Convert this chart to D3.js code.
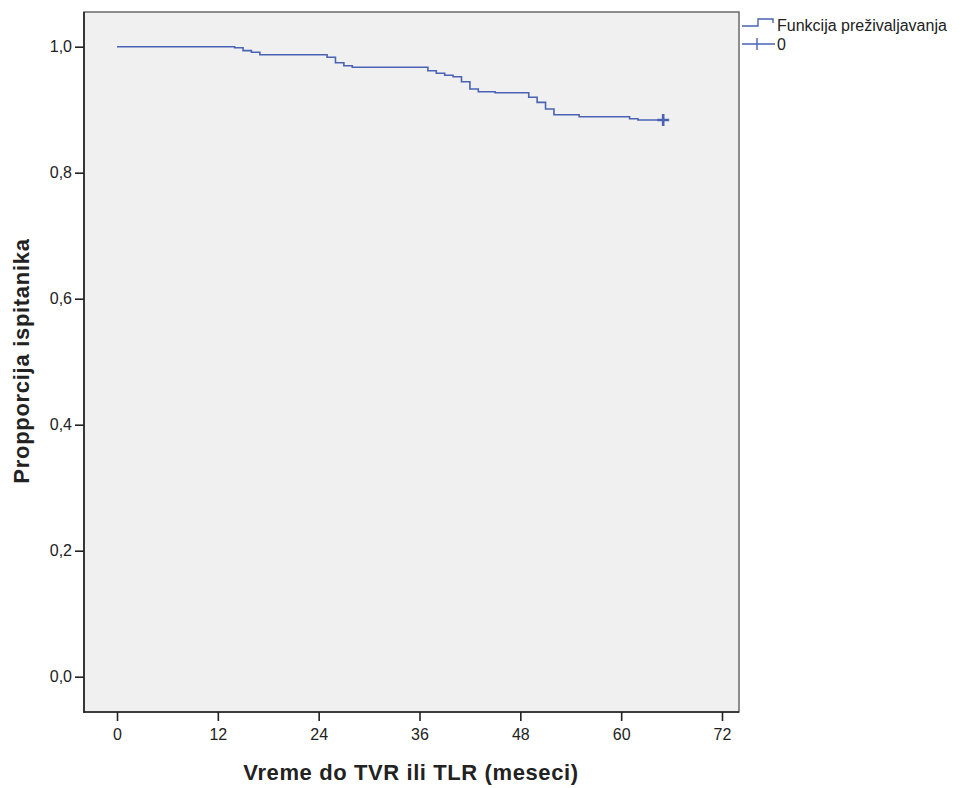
<!DOCTYPE html>
<html>
<head>
<meta charset="utf-8">
<script src="https://cdn.jsdelivr.net/npm/d3@7"></script>
<style>
  html, body { margin: 0; padding: 0; background: #ffffff; }
  svg { display: block; font-family: "Liberation Sans", Arial, sans-serif; }
</style>
</head>
<body>
<svg id="chart" width="964" height="788"></svg>
<script>
// ---- data ----
const eventTimes = [0, 14, 15, 16, 17, 25, 26, 27, 28, 37, 38, 39, 40, 41, 42, 43, 45, 49, 50, 51, 52, 55, 61, 62];
const survival   = [1.0, 0.9984, 0.9937, 0.9911, 0.9872, 0.9832, 0.9746, 0.9698, 0.9673, 0.9619, 0.9578, 0.9546, 0.9524, 0.9444, 0.9329, 0.9286, 0.9270, 0.9197, 0.9117, 0.9011, 0.8921, 0.8889, 0.8857, 0.8837];
const censorTimes = [65];
const censorValues = [0.8837];
const xTicks = [0, 12, 24, 36, 48, 60, 72];
const yTicks = [0, 0.2, 0.4, 0.6, 0.8, 1.0];
const legendLabels = ["Funkcija preživaljavanja", "0"];
const xTitle = "Vreme do TVR ili TLR (meseci)";
const yTitle = "Propporcija ispitanika";

// ---- layout ----
const svg = d3.select("#chart");
const frame = { left: 84, right: 739, top: 12, bottom: 712 };
const x = d3.scaleLinear().domain([0, 72]).range([117, 722]);
const y = d3.scaleLinear().domain([0, 1]).range([676.7, 46.7]);
const lineColor = "#4a63b5";

// plot background
svg.append("rect")
  .attr("x", frame.left).attr("y", frame.top)
  .attr("width", frame.right - frame.left).attr("height", frame.bottom - frame.top)
  .attr("fill", "#f0f0f0")
  .attr("stroke", "#6a6a6a").attr("stroke-width", 1.5);

// axes
const xAxis = d3.axisBottom(x).tickValues(xTicks).tickSize(9).tickPadding(8)
  .tickFormat(d3.format("d"));
const gx = svg.append("g").attr("transform", `translate(0,${frame.bottom})`).call(xAxis);
gx.select(".domain").remove();
gx.selectAll(".tick line").attr("stroke", "#222").attr("stroke-width", 1.6);
gx.selectAll(".tick text").attr("font-size", 16).attr("fill", "#222")
  .attr("font-family", "Liberation Sans, Arial, sans-serif");

const yAxis = d3.axisLeft(y).tickValues(yTicks).tickSize(9).tickPadding(3)
  .tickFormat(d => d.toFixed(1).replace(".", ","));
const gy = svg.append("g").attr("transform", `translate(${frame.left},0)`).call(yAxis);
gy.select(".domain").remove();
gy.selectAll(".tick line").attr("stroke", "#222").attr("stroke-width", 1.6);
gy.selectAll(".tick text").attr("font-size", 16).attr("fill", "#222")
  .attr("font-family", "Liberation Sans, Arial, sans-serif");

// axis lines (left & bottom, black)
svg.append("line").attr("x1", frame.left).attr("x2", frame.left)
  .attr("y1", frame.top).attr("y2", frame.bottom + 0.75)
  .attr("stroke", "#222").attr("stroke-width", 1.6);
svg.append("line").attr("x1", frame.left - 0.75).attr("x2", frame.right)
  .attr("y1", frame.bottom).attr("y2", frame.bottom)
  .attr("stroke", "#222").attr("stroke-width", 1.6);

// survival step curve
const pts = eventTimes.map((t, i) => [t, survival[i]]);
pts.push([censorTimes[0], censorValues[0]]);
const line = d3.line().x(d => x(d[0])).y(d => y(d[1])).curve(d3.curveStepAfter);
svg.append("path").datum(pts)
  .attr("d", line).attr("fill", "none")
  .attr("stroke", lineColor).attr("stroke-width", 1.6);

// censor markers
censorTimes.forEach((t, i) => {
  const cx = x(t), cy = y(censorValues[i]);
  svg.append("path")
    .attr("d", `M${cx - 6},${cy} H${cx + 6} M${cx},${cy - 6} V${cy + 6}`)
    .attr("stroke", lineColor).attr("stroke-width", 2.6).attr("fill", "none");
});

// titles
svg.append("text").attr("x", 411).attr("y", 780).attr("text-anchor", "middle")
  .attr("font-size", 22).attr("font-weight", "bold").attr("fill", "#222")
  .attr("letter-spacing", 0.6)
  .text(xTitle);
svg.append("text").attr("transform", "translate(29,361) rotate(-90)")
  .attr("text-anchor", "middle")
  .attr("font-size", 22).attr("font-weight", "bold").attr("fill", "#222")
  .attr("letter-spacing", 0.7)
  .text(yTitle);

// legend
const lg = svg.append("g");
lg.append("path").attr("d", "M742,26 H758 V19 H773 V23")
  .attr("fill", "none").attr("stroke", lineColor).attr("stroke-width", 1.4);
lg.append("path").attr("d", "M742,44 H775 M757,38 V50")
  .attr("fill", "none").attr("stroke", lineColor).attr("stroke-width", 1.4);
lg.append("text").attr("x", 777).attr("y", 31).attr("font-size", 16).attr("fill", "#222")
  .text(legendLabels[0]);
lg.append("text").attr("x", 777).attr("y", 50).attr("font-size", 16).attr("fill", "#222")
  .text(legendLabels[1]);
</script>
</body>
</html>
